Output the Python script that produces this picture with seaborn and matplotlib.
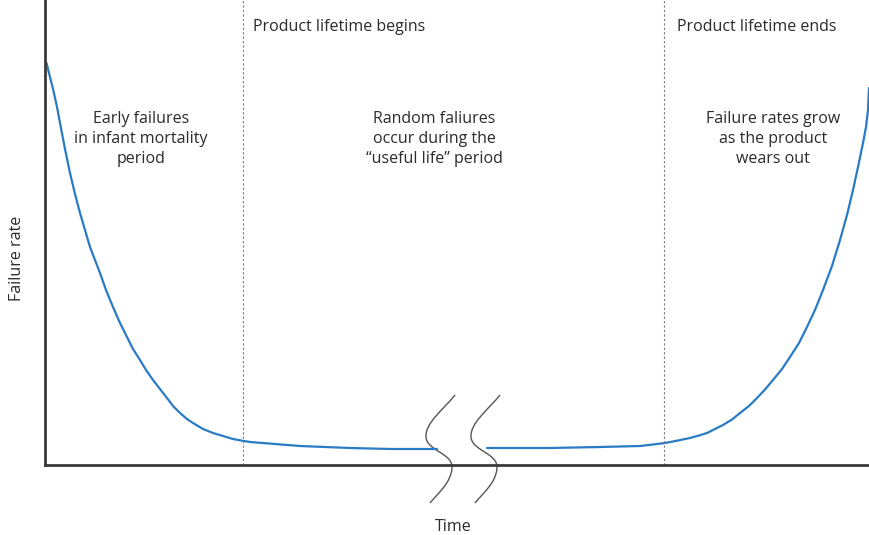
import matplotlib
matplotlib.use("Agg")
import matplotlib.pyplot as plt
from matplotlib.path import Path
from matplotlib.patches import PathPatch
import pandas as pd
import seaborn as sns

# bathtub curve (arbitrary units)
early_time = [1.5, 5, 8.3, 12, 15, 20, 25, 30, 35, 40, 45, 50, 55, 61, 68, 75,
              82, 88, 95, 101, 108, 115, 122, 128, 135, 142, 148, 158, 168,
              178, 188, 196, 205, 230, 255, 280, 305, 325, 347, 370, 392]
early_rate = [402, 388, 375, 358, 342, 316, 292, 271, 252, 235, 218, 205, 192,
              175, 158, 142, 128, 116, 105, 95, 85, 76, 67, 59, 52, 46, 42, 36,
              32, 29, 26, 24.5, 23, 21, 19, 18, 17, 16.5, 16, 16, 16]
late_time = [442, 475, 505, 530, 555, 575, 595, 608, 620, 633, 645, 654, 662,
             670, 678, 687, 695, 704, 712, 720, 728, 737, 745, 754, 762, 770,
             778, 787, 795, 802, 808, 813, 818, 821, 823, 824]
late_rate = [17, 17, 17, 17.5, 18, 18.5, 19, 20.5, 22, 24.5, 27, 29.5, 32,
             36, 40, 45.5, 52, 59, 67, 75.5, 85, 96, 108, 122, 138, 155,
             175, 199, 225, 250, 275, 298, 322, 338, 355, 377]

lifetime_begins = 198
lifetime_ends = 619

df = pd.concat([
    pd.DataFrame({"Time": early_time, "Rate": early_rate, "part": "early"}),
    pd.DataFrame({"Time": late_time, "Rate": late_rate, "part": "late"}),
])

sns.set_theme(style="white")
plt.rcParams["font.family"] = ["Open Sans", "DejaVu Sans"]
text_color = "#2b2b2b"

fig = plt.figure(figsize=(8.69, 5.35), dpi=100)
ax = fig.add_axes([45 / 869, 70 / 535, 824 / 869, 465 / 535])

sns.lineplot(data=df, x="Time", y="Rate", units="part", estimator=None,
             sort=False, color="#2a7bc6", linewidth=1.6, ax=ax)

ax.set_xlim(0, 824)
ax.set_ylim(0, 465)
ax.set_xticks([])
ax.set_yticks([])
for side in ["top", "right"]:
    ax.spines[side].set_visible(False)
for side in ["left", "bottom"]:
    ax.spines[side].set_color("#3a3a3a")
    ax.spines[side].set_linewidth(2)

# vertical dotted markers
for xv in [lifetime_begins, lifetime_ends]:
    ax.axvline(xv, color="#7a7a7a", linewidth=0.8, linestyle=(0, (2, 2)))

# axis break marks
verts = [(410, 70), (398, 55), (380, 42), (381, 28),
         (382, 14), (408, 12), (407, -3),
         (406, -18), (393, -28), (385, -38)]
codes = [Path.MOVETO] + [Path.CURVE4] * 9
for dx in [0, 45]:
    shifted = [(x + dx, y) for x, y in verts]
    ax.add_patch(PathPatch(Path(shifted, codes), facecolor="none",
                           edgecolor="#555555", linewidth=1.0, clip_on=False))

fs = 11.5
ax.text(lifetime_begins + 10, 438, "Product lifetime begins", ha="left",
        va="center", fontsize=fs, color=text_color)
ax.text(lifetime_ends + 13, 438, "Product lifetime ends", ha="left",
        va="center", fontsize=fs, color=text_color)
ax.text(96, 326, "Early failures\nin infant mortality\nperiod", ha="center",
        va="center", fontsize=fs, color=text_color, linespacing=1.3)
ax.text(389, 326, "Random faliures\noccur during the\n\u201cuseful life\u201d period",
        ha="center", va="center", fontsize=fs, color=text_color, linespacing=1.3)
ax.text(728, 326, "Failure rates grow\nas the product\nwears out", ha="center",
        va="center", fontsize=fs, color=text_color, linespacing=1.3)

ax.set_xlabel("Time", fontsize=fs, color=text_color, va="center")
ax.set_ylabel("Failure rate", fontsize=fs, color=text_color, va="center")
ax.xaxis.set_label_coords((453 - 45) / 824, (465 - 527) / 465)
ax.yaxis.set_label_coords((17 - 45) / 824, (465 - 258) / 465)

fig.savefig("out.png", dpi=100)
